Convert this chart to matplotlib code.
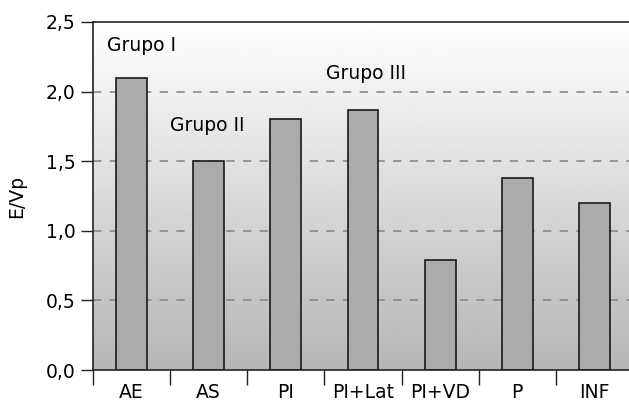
import matplotlib
matplotlib.use('Agg')
import matplotlib.pyplot as plt
import matplotlib.ticker as mticker
import numpy as np

categories = ['AE', 'AS', 'PI', 'PI+Lat', 'PI+VD', 'P', 'INF']
values = [2.1, 1.5, 1.8, 1.87, 0.79, 1.38, 1.2]
group_labels = ['Grupo I', 'Grupo II', 'Grupo III']
group_pos = [(-0.32, 2.33), (0.5, 1.76), (2.52, 2.13)]

plt.rcParams['font.family'] = ['DejaVu Sans']

fig = plt.figure(figsize=(6.29, 4.04), dpi=100)
ax = fig.add_axes([93 / 629, 34 / 404, 540 / 629, 348 / 404])

x = np.arange(len(categories))

# gradient background, white at top
grad = np.linspace(1.0, 0.71, 256).reshape(-1, 1)
ax.imshow(grad, cmap='gray', vmin=0, vmax=1, aspect='auto', origin='upper',
          extent=[-0.5, len(categories) - 0.5, 0, 2.5], zorder=0)
ax.set_xlim(-0.5, len(categories) - 0.5)
ax.set_ylim(0, 2.5)

for yv in [0.5, 1.0, 1.5, 2.0]:
    ax.axhline(yv, color='#888888', linestyle=(0, (5, 5)), linewidth=1.2, zorder=1)

ax.bar(x, values, width=0.4, color='#ababab', edgecolor='#1a1a1a', linewidth=1.2, zorder=2)

for lab, (gx, gy) in zip(group_labels, group_pos):
    ax.text(gx, gy, lab, fontsize=13.5, ha='left', va='center', zorder=3)

ax.set_xticks(x)
ax.set_xticklabels(categories, fontsize=13.5)
ax.set_xticks(np.arange(-0.5, len(categories) - 0.4, 1), minor=True)
ax.tick_params(axis='x', which='major', length=0, pad=9)
ax.tick_params(axis='x', which='minor', length=11, width=1, color='#222222')
ax.set_yticks([0, 0.5, 1.0, 1.5, 2.0, 2.5])
ax.yaxis.set_major_formatter(mticker.FuncFormatter(lambda v, p: f'{v:.1f}'.replace('.', ',')))
ax.tick_params(axis='y', length=9, width=1, labelsize=13.5, color='#222222')
ax.set_ylabel('E/Vp', fontsize=13.5, labelpad=14)

for s in ['left', 'bottom', 'top']:
    ax.spines[s].set_color('#222222')
    ax.spines[s].set_linewidth(1.2)
ax.spines['right'].set_visible(False)

fig.savefig('out.png', dpi=100)
